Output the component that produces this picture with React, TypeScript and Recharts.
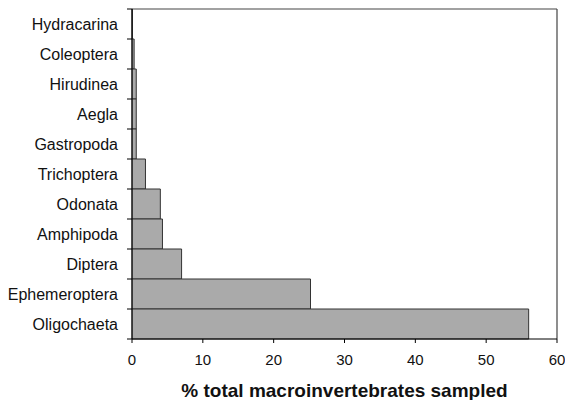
import React from "react";
import { BarChart, Bar, XAxis, YAxis, CartesianGrid } from "recharts";

const categories = [
  "Hydracarina",
  "Coleoptera",
  "Hirudinea",
  "Aegla",
  "Gastropoda",
  "Trichoptera",
  "Odonata",
  "Amphipoda",
  "Diptera",
  "Ephemeroptera",
  "Oligochaeta",
];
const values = [0.05, 0.3, 0.6, 0.6, 0.6, 1.9, 4.0, 4.3, 7.0, 25.2, 56.0];
const xTicks = [0, 10, 20, 30, 40, 50, 60];
const xTitle = "% total macroinvertebrates sampled";

const data = categories.map((name, i) => ({ name, value: values[i] }));

const W = 565;
const H = 400;
const M = { top: 9, right: 8, left: 0, bottom: 0 };
const Y_W = 132;
const X_H = 61;
const BAND = (H - M.top - M.bottom - X_H) / categories.length;
const FONT = "Liberation Sans, Arial, sans-serif";

const YTick = (props: any) => {
  const { y, payload, index } = props;
  const ax = M.left + Y_W;
  return (
    <g>
      <text
        x={ax - 14}
        y={y}
        dy={5.5}
        textAnchor="end"
        fontFamily={FONT}
        fontSize={16}
        fill="#111"
      >
        {payload.value}
      </text>
      <line x1={ax - 5} x2={ax} y1={y + BAND / 2} y2={y + BAND / 2} stroke="#000" />
      {index === 0 ? (
        <line x1={ax - 5} x2={ax} y1={y - BAND / 2} y2={y - BAND / 2} stroke="#000" />
      ) : null}
    </g>
  );
};

export default function App() {
  return (
    <div style={{ position: "absolute", left: 0, top: 0, background: "#fff" }}>
      <BarChart
        width={W}
        height={H}
        data={data}
        layout="vertical"
        margin={M}
        barCategoryGap={0}
        barGap={0}
      >
        <CartesianGrid
          stroke="#444"
          strokeWidth={1.2}
          horizontalCoordinatesGenerator={({ offset }: any) => [offset.top]}
          verticalCoordinatesGenerator={({ offset }: any) => [offset.left + offset.width]}
        />
        <XAxis
          type="number"
          domain={[0, 60]}
          ticks={xTicks}
          interval={0}
          height={X_H}
          axisLine={{ stroke: "#000" }}
          tickLine={{ stroke: "#000" }}
          tickSize={4}
          tickMargin={11}
          tick={{ fontFamily: FONT, fontSize: 15, fill: "#111" }}
          label={{
            value: xTitle,
            position: "insideBottom",
            offset: 3,
            style: { fontFamily: FONT, fontSize: 19, fontWeight: "bold", fill: "#111" },
          }}
        />
        <YAxis
          type="category"
          dataKey="name"
          width={Y_W}
          interval={0}
          axisLine={{ stroke: "#000" }}
          tickLine={false}
          tick={<YTick />}
        />
        <Bar
          dataKey="value"
          fill="#aaaaaa"
          stroke="#333"
          strokeWidth={1}
          isAnimationActive={false}
        />
      </BarChart>
    </div>
  );
}
